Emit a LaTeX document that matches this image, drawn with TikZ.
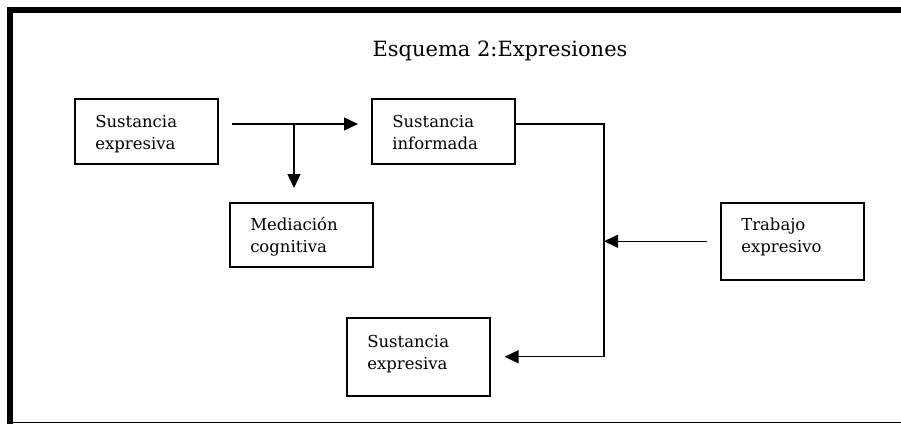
\documentclass[tikz,border=0pt]{standalone}
\usepackage{fontspec}
\setmainfont{DejaVu Serif}
\usetikzlibrary{arrows.meta}

\begin{document}
\begin{tikzpicture}[x=1pt,y=-1pt,
    every node/.style={font=\fontsize{16.5}{22}\selectfont},
    caja/.style={draw=black,line width=1.5pt,rectangle,anchor=north west,align=left,inner xsep=20pt,inner ysep=0pt,text width=102pt,minimum width=143pt},
    flecha/.style={draw=black,line width=1.3pt,-{Triangle[length=14pt,width=13pt]}}]
            \useasboundingbox (0,0) rectangle (901,424);
            \draw [line width=6pt,line join=miter] (901,10) -- (10,10) -- (10,424);
            \draw [line width=1pt] (13,422) -- (901,422);

            \node[font=\fontsize{21}{26}\selectfont] (titulo) at (500,51) {Esquema 2:Expresiones};
            \node[caja,text height=29pt,text depth=36pt] (se1) at (74,98) {Sustancia\\expresiva};
            \node[caja,text height=29pt,text depth=36pt] (si) at (371,98) {Sustancia\\informada};
            \node[caja,text height=28pt,text depth=36pt] (mc) at (229,202) {Mediación\\cognitiva};
            \node[caja,text height=28pt,text depth=49pt] (te) at (720,202) {Trabajo\\expresivo};
            \node[caja,text height=30pt,text depth=48pt] (se2) at (346,317) {Sustancia\\expresiva};

            \coordinate (b1) at (294,124);
            \coordinate (k1) at (604,124);

            \draw [flecha,shorten <=13pt,shorten >=13pt] (se1.east |- b1) -- (si.west |- b1);
            \draw [flecha,shorten >=14pt] (b1) -- (b1 |- mc.north);
            \draw [flecha,shorten >=14pt] (si.east |- k1) -- (k1) |- (se2.east);
            \draw [flecha,shorten <=13pt] (te.west) -- (k1 |- te.west);
        \end{tikzpicture}
\end{document}
